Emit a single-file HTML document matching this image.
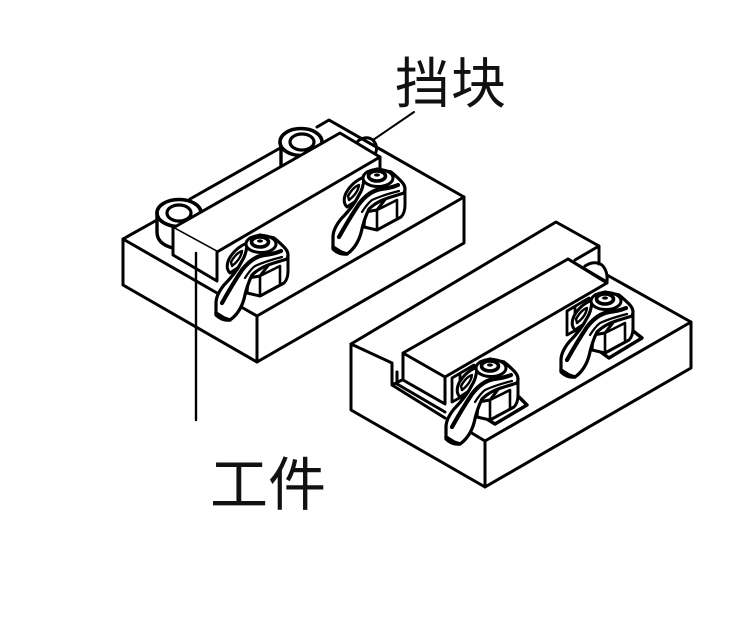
<!DOCTYPE html>
<html><head><meta charset="utf-8">
<style>html,body{margin:0;padding:0;background:#fff}svg{display:block}
text{font-family:"Liberation Sans","Noto Sans CJK SC",sans-serif;fill:#111}</style></head>
<body>
<svg width="750" height="623" viewBox="0 0 750 623" xmlns="http://www.w3.org/2000/svg">
<defs>
<g id="clamp" fill="#fff" stroke="#000" stroke-linejoin="round" stroke-linecap="round">
  <!-- nut -->
  <path d="M-12 35L-13 50L0 53L24 40Q28 36 28 28V14L10 20L0 33Z" stroke-width="3"/>
  <path d="M-12 35L0 33L20 23M0 33V52M20 23V40" stroke-width="2.6" fill="none"/>
  <!-- ear -->
  <path d="M-13 0Q-25 5 -31 16Q-35 25 -30 30L-18 22L-12 6Z" stroke-width="3"/>
  <path d="M-29 19Q-24 10 -18 8Q-19 16 -28 23Z" stroke-width="2.4"/>
  <!-- lever body -->
  <path d="M-13 2Q-14 12 -18 18Q-24 30 -36 42Q-44 52 -44 60V72Q-38 78 -30 77Q-20 70 -16 56Q-13 42 -8 32Q0 24 14 20L27 16Q30 10 24 4Q18 -2 14 -5L0 -8L-10 -5Z" stroke-width="3.2"/>
  <path d="M-38 60Q-28 42 -18 27Q-8 14 4 12Q14 11 21 8" fill="none" stroke-width="4.2"/>
  <path d="M-15 35Q-10 27 -5 23Q6 18 22 14" fill="none" stroke-width="2.2"/>
  <path d="M-44 70L-36 75L-30 77" fill="none" stroke-width="3.4"/>
  <!-- screw head -->
  <ellipse cx="1" cy="1" rx="15" ry="8.5" stroke-width="3"/>
  <ellipse cx="0" cy="-1" rx="8.5" ry="5" stroke-width="3.6"/>
  <ellipse cx="0" cy="-2" rx="3" ry="1.6" fill="#000" stroke="none"/>
</g>
</defs>
<g fill="none" stroke="#000" stroke-width="3" stroke-linejoin="round" stroke-linecap="round">
  <!-- left base -->
  <path d="M123 239V285L257 362L464 243V197L329 120L317 127"/>
  <path d="M123 239L157 220M123 239L217 293M243 308L257 316V362M257 316L464 197"/>
  <path d="M190 199L282 147"/>
  <!-- washers -->
  <path d="M157 213V232Q157 244 173 248" stroke-width="3.4"/>
  <ellipse cx="179" cy="213" rx="22" ry="13.5" fill="#fff" stroke-width="3.6"/>
  <ellipse cx="179" cy="213" rx="12" ry="8" fill="#fff" stroke-width="3.2"/>
  <path d="M281 142V165" stroke-width="3.4"/>
  <ellipse cx="301" cy="142" rx="21" ry="13.5" fill="#fff" stroke-width="3.6"/>
  <ellipse cx="302" cy="142" rx="12" ry="8" fill="#fff" stroke-width="3.2"/>
  <!-- left workpiece -->
  <path d="M173 228L340 133L380 157L217 252Z" fill="#fff"/>
  <path d="M173 228V255L217 281V252" fill="#fff"/>
  <path d="M380 157V170"/>
  <!-- pin -->
  <path d="M358 141Q366 135 373 140Q378 146 376 152"/>
  <path d="M373 140L414 112" stroke-width="2"/>
  <path d="M196 253V420" stroke-width="2.4"/>
  <!-- right base -->
  <path d="M351 344V410L485 487L691 368V322L607 275M568 259L607 282"/>
  <path d="M351 344L556 222L599 246V264M599 246L575 260"/>
  <path d="M351 344L392 363V385L402 380M392 385L445 418M485 441L460 426M485 441V487M485 441L691 322"/>
  <path d="M403 353L568 259L607 283L445 377ZM403 353V380L445 404V377" fill="#fff"/>
  <path d="M397 372V384L445 412"/>
  <!-- right pin -->
  <path d="M585 266Q594 260 602 265Q608 271 607 282"/>
  <!-- ear plates -->
  <path d="M452 378V402L474 390V365ZM460 374V398" stroke-width="2.8"/>
  <path d="M567 311V335L589 323V298ZM575 307V331" stroke-width="2.8"/>
  <!-- pads -->
  <path d="M519 397L527 405L495 424L482 416M632 330L642 338L609 358L598 350" stroke-width="3.4"/>
</g>
<use href="#clamp" x="260" y="243"/>
<use href="#clamp" x="377" y="177"/>
<use href="#clamp" x="490" y="367"/>
<use href="#clamp" x="605" y="300"/>
<text x="395" y="103" font-size="55" letter-spacing="1">挡块</text>
<text x="210" y="505" font-size="58">工件</text>
</svg>
</body></html>
